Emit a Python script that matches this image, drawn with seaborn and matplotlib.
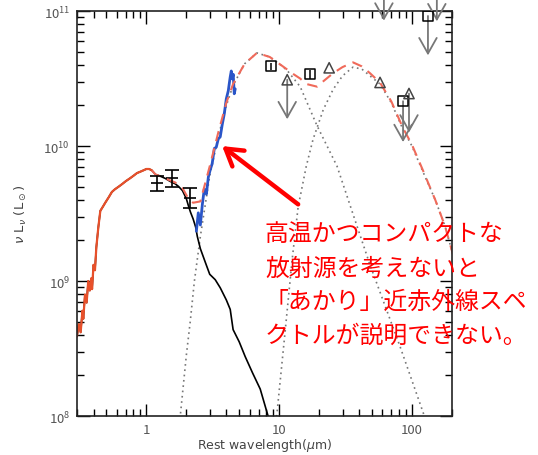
import numpy as np
import pandas as pd
import matplotlib
matplotlib.use("Agg")
import matplotlib.pyplot as plt
import matplotlib.ticker as mticker
import seaborn as sns

# ---------------- data ----------------
# stellar model (black line, with red-orange overlay at short wavelengths)
star_wl = [0.30, 0.31, 0.32, 0.33, 0.335, 0.345, 0.355, 0.365, 0.375, 0.385, 0.39, 0.40,
           0.41, 0.42, 0.435, 0.45, 0.47, 0.49, 0.52, 0.55, 0.58, 0.62, 0.66, 0.70, 0.75,
           0.80, 0.85, 0.90, 0.95, 1.00, 1.05, 1.10, 1.17, 1.25, 1.39, 1.5, 1.65, 1.75,
           1.87, 2.0, 2.07, 2.15, 2.25, 2.35, 2.42, 2.55, 2.8, 3.0, 3.3, 3.6, 4.0, 4.28,
           4.5, 5.0, 5.55, 6.3, 7.2, 8.25, 9.0]
star_logL = [8.59, 8.68, 8.62, 8.78, 8.72, 8.90, 8.84, 9.00, 8.93, 9.02, 8.94, 9.12,
             9.08, 9.25, 9.40, 9.52, 9.55, 9.58, 9.62, 9.66, 9.68, 9.70, 9.72, 9.74, 9.76,
             9.78, 9.80, 9.81, 9.82, 9.83, 9.83, 9.82, 9.79, 9.78, 9.76, 9.74, 9.72, 9.70,
             9.67, 9.61, 9.56, 9.51, 9.46, 9.40, 9.33, 9.24, 9.13, 9.05, 9.01, 8.95, 8.86,
             8.79, 8.64, 8.55, 8.44, 8.32, 8.20, 8.00, 7.85]
overlay_max_wl = 1.12

# hot dust component (dotted)
hot_wl = [1.7, 1.8, 2.0, 2.14, 2.3, 2.55, 3.0, 3.5, 4.0, 4.5, 5.5, 6.8, 8.5, 10, 11.5,
          14.4, 19.3, 27.3, 37.3, 48.3, 81, 121, 140]
hot_logL = [7.7, 8.0, 8.45, 8.70, 9.0, 9.33, 9.78, 10.08, 10.3, 10.45, 10.61, 10.69, 10.66,
            10.61, 10.56, 10.44, 10.15, 9.85, 9.45, 9.12, 8.52, 8.03, 7.85]

# cold dust component (dotted)
cold_wl = [9.0, 9.65, 11.1, 12.5, 13.9, 16, 18.0, 21.5, 25.5, 30, 36, 42, 48.3, 57.5, 70,
           85, 100, 121, 150, 177, 210]
cold_logL = [7.8, 8.03, 8.63, 9.15, 9.55, 9.85, 10.05, 10.27, 10.42, 10.52, 10.585, 10.57,
             10.52, 10.46, 10.32, 10.13, 10.0, 9.81, 9.6, 9.41, 9.15]

# total model (red dashed)
tot_wl = [1.10, 1.17, 1.39, 1.65, 1.87, 2.07, 2.25, 2.55, 3.0, 3.5, 4.0, 4.5, 5.5, 6.8,
          8.5, 10, 11.5, 12.5, 14.4, 16, 19.3, 21.5, 25.5, 30, 36, 42, 48.3, 57.5, 70, 85,
          100, 121, 150, 177, 210]
tot_logL = [9.82, 9.79, 9.76, 9.73, 9.69, 9.61, 9.58, 9.59, 9.85, 10.11, 10.32, 10.46,
            10.61, 10.69, 10.66, 10.61, 10.567, 10.54, 10.50, 10.46, 10.44, 10.48, 10.54,
            10.585, 10.62, 10.59, 10.54, 10.47, 10.33, 10.14, 10.01, 9.82, 9.60, 9.41, 9.15]

# AKARI near-IR spectrum (blue)
akari_wl = [2.38, 2.46, 2.55, 2.64, 2.73, 2.83, 2.93, 3.03, 3.13, 3.25, 3.36, 3.48, 3.60,
            3.73, 3.86, 4.00, 4.14, 4.21, 4.28, 4.36, 4.43, 4.51, 4.59, 4.67]
akari_L = [2.34e9, 3.2e9, 2.6e9, 3.7e9, 4.8e9, 4.4e9, 5.9e9, 6.7e9, 7.4e9, 9.6e9, 9.8e9,
           1.13e10, 1.17e10, 1.45e10, 1.73e10, 2.24e10, 2.57e10, 2.9e10, 3.25e10, 3.6e10,
           3.15e10, 3.4e10, 2.44e10, 2.65e10]

# photometry with error bars (near-IR)
nir_wl = [1.2, 1.56, 2.14]
nir_L = [5.3e9, 5.75e9, 4.1e9]
nir_lo = [4.68e9, 5.0e9, 3.47e9]
nir_hi = [6.03e9, 6.6e9, 4.9e9]

# squares
sq_wl = [8.65, 17.1, 85.7, 132]
sq_L = [3.9e10, 3.4e10, 2.15e10, 9.2e10]
sq_err = [0.25e10, 0.25e10, 0.0, 0.0]

# triangles
tri_wl = [11.5, 23.8, 57.5, 95]
tri_L = [3.1e10, 3.8e10, 2.96e10, 2.45e10]

# upper-limit arrows: wavelength, start, tip
ul_wl = [11.5, 85.7, 95, 132, 61.5, 154]
ul_start = [3.1e10, 2.15e10, 2.45e10, 9.2e10, 1.4e11, 1.4e11]
ul_tip = [1.58e10, 1.07e10, 1.26e10, 4.7e10, 8.5e10, 8.4e10]

tick_x = [1, 10, 100]
tick_x_labels = ["1", "10", "100"]

note_lines = ["高温かつコンパクトな", "放射源を考えないと",
              "「あかり」近赤外線スペ", "クトルが説明できない。"]

# ---------------- figure ----------------
sns.set_style("ticks")
plt.rcParams["font.family"] = ["Noto Sans CJK JP", "DejaVu Sans"]
plt.rcParams["mathtext.fontset"] = "dejavusans"

fig = plt.figure(figsize=(5.38, 4.56), dpi=100)
fig.patch.set_facecolor("white")
ax = fig.add_axes([0.143, 0.0855, 0.697, 0.888])
ax.set_xscale("log")
ax.set_yscale("log")

star = pd.DataFrame({"wl": star_wl, "L": 10 ** np.array(star_logL)})
hot = pd.DataFrame({"wl": hot_wl, "L": 10 ** np.array(hot_logL)})
cold = pd.DataFrame({"wl": cold_wl, "L": 10 ** np.array(cold_logL)})
tot = pd.DataFrame({"wl": tot_wl, "L": 10 ** np.array(tot_logL)})
akari = pd.DataFrame({"wl": akari_wl, "L": akari_L})

sns.lineplot(data=hot, x="wl", y="L", ax=ax, color="#777777", lw=1.2,
             linestyle=(0, (1, 2.2)), estimator=None, sort=False)
sns.lineplot(data=cold, x="wl", y="L", ax=ax, color="#777777", lw=1.2,
             linestyle=(0, (1, 2.2)), estimator=None, sort=False)
sns.lineplot(data=star, x="wl", y="L", ax=ax, color="black", lw=1.2,
             estimator=None, sort=False)
sns.lineplot(data=star[star["wl"] <= overlay_max_wl], x="wl", y="L", ax=ax,
             color="#e8502a", lw=1.6, estimator=None, sort=False)
sns.lineplot(data=akari, x="wl", y="L", ax=ax, color="#2a55c8", lw=2.0,
             estimator=None, sort=False)
sns.lineplot(data=tot, x="wl", y="L", ax=ax, color="#f06a5a", lw=1.5,
             linestyle=(0, (5, 3.5)), estimator=None, sort=False)

# near-IR photometry
nir_L_a = np.array(nir_L)
ax.errorbar(nir_wl, nir_L, yerr=[nir_L_a - np.array(nir_lo), np.array(nir_hi) - nir_L_a],
            fmt="none", ecolor="black", elinewidth=1.2, capsize=5, capthick=1.2)
sns.scatterplot(x=nir_wl, y=nir_L, ax=ax, marker="_", s=70, color="black",
                linewidth=1.2, legend=False)

# upper limits
for w, s0, t in zip(ul_wl, ul_start, ul_tip):
    ax.annotate("", xy=(w, t), xytext=(w, s0),
                arrowprops=dict(arrowstyle="->,head_length=0.8,head_width=0.45",
                                color="#777777", lw=1.3, mutation_scale=14,
                                shrinkA=0, shrinkB=0),
                annotation_clip=False, clip_on=True)

# squares
ax.errorbar(sq_wl[:2], sq_L[:2], yerr=sq_err[:2], fmt="none", ecolor="black",
            elinewidth=1.1)
sns.scatterplot(x=sq_wl, y=sq_L, ax=ax, marker="s", s=55, facecolor="none",
                edgecolor="black", linewidth=1.1, legend=False, zorder=5)
# triangles
sns.scatterplot(x=tri_wl, y=tri_L, ax=ax, marker="^", s=55, facecolor="none",
                edgecolor="#444444", linewidth=1.1, legend=False, zorder=5)

ax.set_xlim(0.3, 200)
ax.set_ylim(1e8, 1e11)

ax.xaxis.set_major_locator(mticker.FixedLocator(tick_x))
ax.xaxis.set_major_formatter(mticker.FixedFormatter(tick_x_labels))
ax.xaxis.set_minor_locator(mticker.LogLocator(base=10, subs=np.arange(2, 10)))
ax.xaxis.set_minor_formatter(mticker.NullFormatter())
ax.yaxis.set_major_locator(mticker.LogLocator(base=10, numticks=10))
ax.yaxis.set_minor_locator(mticker.LogLocator(base=10, subs=np.arange(2, 10), numticks=10))
ax.yaxis.set_minor_formatter(mticker.NullFormatter())

ax.tick_params(which="both", direction="in", top=True, right=True, colors="black",
               labelcolor="#555555", labelsize=9.5, width=1.0)
ax.tick_params(which="major", length=9, pad=5)
ax.tick_params(which="minor", length=5)
for sp in ax.spines.values():
    sp.set_linewidth(1.2)
    sp.set_color("#222222")

ax.set_xlabel(r"Rest wavelength($\mu$m)", color="#444444", fontsize=9,
              family="DejaVu Sans", labelpad=0)
ax.set_ylabel(r"$\nu$ L$_\nu$ (L$_\odot$)", color="#444444", fontsize=9.5,
              family="DejaVu Sans", labelpad=10)

# red explanatory arrow and text
ax.annotate("", xy=(3.72, 1.0e10), xytext=(13.9, 3.7e9),
            arrowprops=dict(arrowstyle="->,head_length=0.9,head_width=0.55",
                            color="#ff0000", lw=3.2, mutation_scale=13,
                            shrinkA=0, shrinkB=0))

y_pos = [235, 269, 302, 336]
for line, yp in zip(note_lines, y_pos):
    fig.text(265 / 538, 1 - yp / 456, line, color="#ff0000", fontsize=17.2,
             ha="left", va="center", family=["Noto Sans CJK JP", "DejaVu Sans"])

fig.savefig("out.png", dpi=100, facecolor="white")
